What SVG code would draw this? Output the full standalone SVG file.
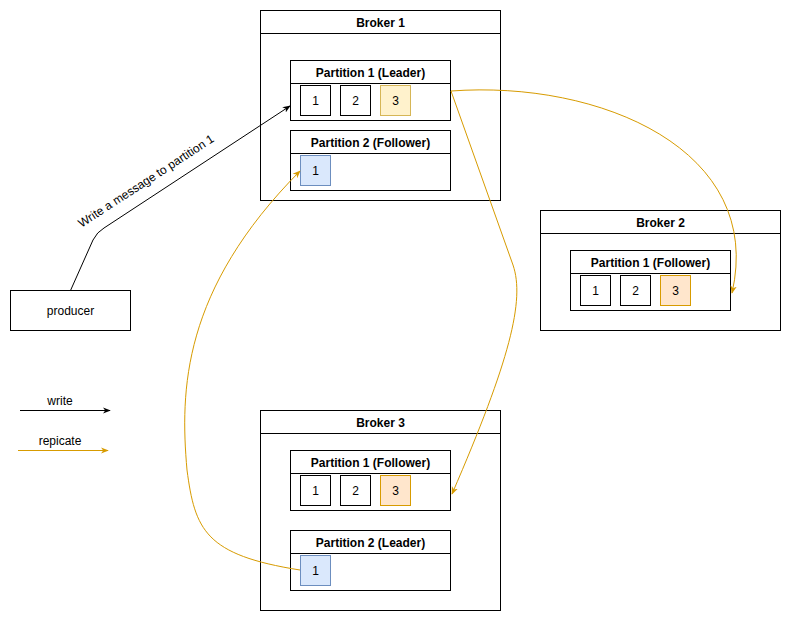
<svg xmlns="http://www.w3.org/2000/svg" width="791" height="621" viewBox="0 0 791 621">
<style>
.box{fill:#fff;stroke:#000;stroke-width:1}
.ln{fill:none;stroke:#000;stroke-width:1}
.t{font-family:"Liberation Sans",Arial,sans-serif;font-size:12px;fill:#000;text-anchor:middle}
.b{font-weight:bold}
.c{fill:#fff;stroke:#000}
.y{fill:#fff2cc;stroke:#d6b656}
.o{fill:#ffe6cc;stroke:#d79b00}
.bl{fill:#dae8fc;stroke:#6c8ebf}
.w{fill:none;stroke:#000;stroke-width:1}
.r{fill:none;stroke:#d79b00;stroke-width:1}
</style>
<defs>
<marker id="ab" viewBox="0 0 10 10" refX="9" refY="5" markerWidth="8" markerHeight="8" orient="auto" markerUnits="userSpaceOnUse"><path d="M0,1 L10,5 L0,9 L3,5 Z" fill="#000"/></marker>
<marker id="ao" viewBox="0 0 10 10" refX="9" refY="5" markerWidth="8" markerHeight="8" orient="auto" markerUnits="userSpaceOnUse"><path d="M0,1 L10,5 L0,9 L3,5 Z" fill="#d79b00"/></marker>
</defs>
<rect width="791" height="621" fill="#fff"/>

<g id="broker1">
<rect class="box" x="260.5" y="10.5" width="240" height="190"/>
<line class="ln" x1="260.5" y1="33.5" x2="500.5" y2="33.5"/>
<text class="t b" x="380.5" y="26.5">Broker 1</text>
</g>
<g id="b1p1">
<rect class="box" x="290.5" y="60.5" width="160" height="60"/>
<line class="ln" x1="290.5" y1="83.5" x2="450.5" y2="83.5"/>
<text class="t b" x="370.5" y="76.5">Partition 1 (Leader)</text>
<rect class="c" x="300.5" y="85.5" width="30" height="30"/><text class="t" x="315.5" y="104.5">1</text>
<rect class="c" x="340.5" y="85.5" width="30" height="30"/><text class="t" x="355.5" y="104.5">2</text>
<rect class="y" x="380.5" y="85.5" width="30" height="30"/><text class="t" x="395.5" y="104.5">3</text>
</g>
<g id="b1p2">
<rect class="box" x="290.5" y="130.5" width="160" height="60"/>
<line class="ln" x1="290.5" y1="153.5" x2="450.5" y2="153.5"/>
<text class="t b" x="370.5" y="146.5">Partition 2 (Follower)</text>
<rect class="bl" x="300.5" y="155.5" width="30" height="30"/><text class="t" x="315.5" y="174.5">1</text>
</g>

<g id="broker2">
<rect class="box" x="540.5" y="210.5" width="240" height="120"/>
<line class="ln" x1="540.5" y1="233.5" x2="780.5" y2="233.5"/>
<text class="t b" x="660.5" y="226.5">Broker 2</text>
</g>
<g id="b2p1">
<rect class="box" x="570.5" y="250.5" width="160" height="60"/>
<line class="ln" x1="570.5" y1="273.5" x2="730.5" y2="273.5"/>
<text class="t b" x="650.5" y="266.5">Partition 1 (Follower)</text>
<rect class="c" x="580.5" y="275.5" width="30" height="30"/><text class="t" x="595.5" y="294.5">1</text>
<rect class="c" x="620.5" y="275.5" width="30" height="30"/><text class="t" x="635.5" y="294.5">2</text>
<rect class="o" x="660.5" y="275.5" width="30" height="30"/><text class="t" x="675.5" y="294.5">3</text>
</g>

<g id="broker3">
<rect class="box" x="260.5" y="410.5" width="240" height="200"/>
<line class="ln" x1="260.5" y1="433.5" x2="500.5" y2="433.5"/>
<text class="t b" x="380.5" y="426.5">Broker 3</text>
</g>
<g id="b3p1">
<rect class="box" x="290.5" y="450.5" width="160" height="60"/>
<line class="ln" x1="290.5" y1="473.5" x2="450.5" y2="473.5"/>
<text class="t b" x="370.5" y="466.5">Partition 1 (Follower)</text>
<rect class="c" x="300.5" y="475.5" width="30" height="30"/><text class="t" x="315.5" y="494.5">1</text>
<rect class="c" x="340.5" y="475.5" width="30" height="30"/><text class="t" x="355.5" y="494.5">2</text>
<rect class="o" x="380.5" y="475.5" width="30" height="30"/><text class="t" x="395.5" y="494.5">3</text>
</g>
<g id="b3p2">
<rect class="box" x="290.5" y="530.5" width="160" height="60"/>
<line class="ln" x1="290.5" y1="553.5" x2="450.5" y2="553.5"/>
<text class="t b" x="370.5" y="546.5">Partition 2 (Leader)</text>
<rect class="bl" x="300.5" y="555.5" width="30" height="30"/><text class="t" x="315.5" y="574.5">1</text>
</g>

<g id="producer">
<rect class="box" x="10.5" y="290.5" width="120" height="40"/>
<text class="t" x="70.5" y="314.5">producer</text>
</g>

<g id="connectors">
<path class="w" d="M70.5,290.5 L93,240 Q97,232 104,228 L290,106" marker-end="url(#ab)"/>
<text class="t" x="146" y="185" transform="rotate(-33.1 146 181)">Write a message to partition 1</text>
<path class="r" d="M451,91 C600,80 765,150 732,293" marker-end="url(#ao)"/>
<path class="r" d="M451,91 L513,265 C525,300 510,360 452,494" marker-end="url(#ao)"/>
<path class="r" d="M300,570 C205,555 195,530 187,470 C180,390 182,290 300,171" marker-end="url(#ao)"/>
</g>

<g id="legend">
<path class="w" d="M20,410.5 L110,410.5" marker-end="url(#ab)"/>
<text class="t" x="60" y="405">write</text>
<path class="r" d="M18,450.5 L108,450.5" marker-end="url(#ao)"/>
<text class="t" x="60" y="445">repicate</text>
</g>
</svg>
